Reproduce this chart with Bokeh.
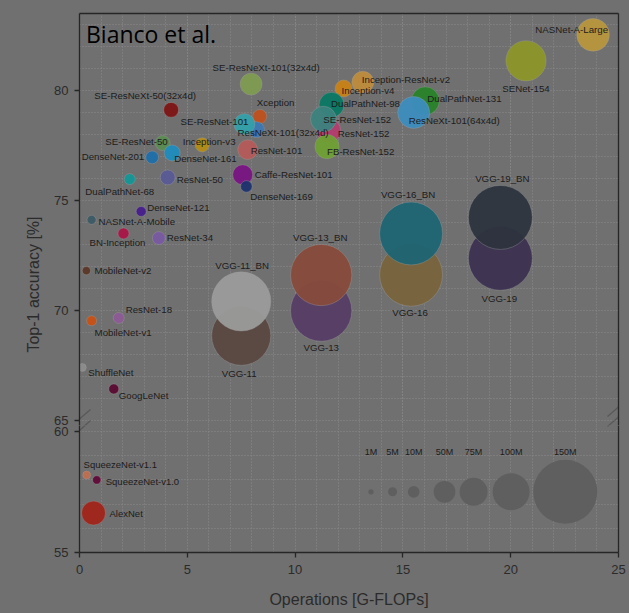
import numpy as np
from bokeh.plotting import figure
from bokeh.models import (Range1d, FixedTicker, LinearAxis, ColumnDataSource, Label,
                          PolyAnnotation, Grid)
from bokeh.layouts import column, row
from bokeh.embed import file_html
from bokeh.resources import INLINE
from bokeh.core.properties import value, field

# ------------------------------------------------------------------ data
names = ["VGG-11", "VGG-11_BN", "VGG-13", "VGG-13_BN", "VGG-16", "VGG-16_BN", "VGG-19", "VGG-19_BN",
         "NASNet-A-Large", "SENet-154", "SE-ResNeXt-101(32x4d)", "SE-ResNeXt-50(32x4d)", "Xception",
         "ResNeXt-101(32x4d)", "SE-ResNet-101", "Inception-v3", "ResNet-101", "SE-ResNet-50",
         "DenseNet-201", "DenseNet-161", "DualPathNet-68", "ResNet-50", "Caffe-ResNet-101",
         "DenseNet-169", "DenseNet-121", "NASNet-A-Mobile", "BN-Inception", "ResNet-34",
         "MobileNet-v2", "ResNet-18", "MobileNet-v1", "ShuffleNet", "GoogLeNet",
         "Inception-ResNet-v2", "Inception-v4", "DualPathNet-131", "ResNeXt-101(64x4d)",
         "DualPathNet-98", "ResNet-152", "FB-ResNet-152", "SE-ResNet-152"]
gflops = [7.50, 7.50, 11.21, 11.21, 15.38, 15.38, 19.52, 19.52,
          23.82, 20.71, 7.96, 4.25, 8.36, 8.21, 7.65, 5.69, 7.80, 3.86,
          3.37, 4.30, 2.33, 4.09, 7.57, 7.74, 2.86, 0.56, 2.04, 3.68,
          0.32, 1.82, 0.56, 0.13, 1.59, 13.14, 12.25, 16.04, 15.50, 11.69, 11.56, 11.48, 11.31]
top1 = [68.83, 70.39, 69.97, 71.59, 71.60, 73.48, 72.35, 74.21,
        82.51, 81.33, 80.27, 79.10, 78.80, 78.20, 78.45, 77.51, 77.29, 77.59,
        76.94, 77.14, 75.95, 76.03, 76.15, 75.62, 74.48, 74.10, 73.48, 73.27,
        71.79, 69.64, 69.51, 67.39, 66.41, 80.35, 80.07, 79.51, 78.98, 79.33, 78.15, 77.43, 78.68]
params_m = [141, 141, 145, 145, 148, 148, 150, 150,
            88, 106, 51, 23, 19, 27, 47, 20, 42, 23,
            14, 27, 8.7, 23, 43, 9.6, 6.9, 5, 8.7, 15,
            4.3, 8.7, 6.9, 3.9, 6.9, 51, 31, 75, 86, 63, 59, 60, 66]

low_names = ["SqueezeNet-v1.1", "SqueezeNet-v1.0", "AlexNet"]
low_gflops = [0.33, 0.80, 0.65]
low_top1 = [58.20, 58.00, 56.63]
low_params_m = [3.9, 4.3, 59]

legend_params = [1, 5, 10, 50, 75, 100, 150]
legend_labels = ["1M", "5M", "10M", "50M", "75M", "100M", "150M"]

x_ticks = [0, 5, 10, 15, 20, 25]
y_ticks_top = [65, 70, 75, 80]
y_ticks_bottom = [55, 60]

# ------------------------------------------------------------------ styles
colors = ["#5a4841", "#9b9b9b", "#553c64", "#874b3c", "#78643c", "#1e6473", "#3c3250", "#2d343e",
          "#b8963c", "#8c9628", "#7d9b50", "#7d1414", "#be501e", "#3c78b4", "#32a0aa", "#b48c14",
          "#b45a5a", "#5a8c50", "#1e6eaa", "#1e8cbe", "#149696", "#5a5a96", "#781482", "#1e326e",
          "#461e8c", "#3c5a64", "#aa1446", "#785aa0", "#5a3728", "#8c5a96", "#c85014", "#8c8c8c",
          "#5a0a32", "#be8c3c", "#c88214", "#288228", "#3c8cbe", "#0a7864", "#b43c6e", "#6ea032",
          "#3c827d"]
lab_align = ["center"] * 8 + ["right", "center", "center", "center", "left", "left", "right", "center",
             "left", "right", "right", "left", "center", "left", "left", "left", "left", "left",
             "center", "left", "left", "left", "left", "left", "left", "left", "left", "left",
             "left", "left", "left", "left", "left"]
lab_dx = [-2, 1, 0, -1, -1, -3, -1, 2,
          15, 0, 15, -26, -3, -19, 4, 7, 3, 5, -8, 2, -10, 9, 12, 4, 6, 7, -6, 8,
          8, 7, 3, 6, 5, -1, -2, 2, -5, -0.5, 9, 0, 0]
lab_dy = [38, -36, 37, -38, 38, -39, 40, -39,
          -5, 28, -17, -14, -14, 3, -2.5, -3, 1, -2, -1, 6, 12, 2, 0, 10, -4, 2, 9, -1,
          0, -8, 12, 5, 7, -2.5, 1.5, -2, 8, -1, 3, 5, 0]
low_colors = ["#be6e50", "#5f0a37", "#a02319"]
low_align = ["left", "left", "left"]
low_dx = [-3, 9, 16]
low_dy = [-11, 2, 0]

legend_d = [5.3, 9, 11.7, 21.7, 28, 37, 64]          # bubble diameter (px) for legend_params
legend_x = [13.52, 14.52, 15.50, 16.93, 18.28, 20.02, 22.53]
legend_y = 57.51
legend_label_y = 59.14

BG = "#707070"
AX = "#262626"
GRID = "#8a8a8a"
TXT = "#1c1c1c"
FONT = "Liberation Sans"


def size_of(p):
    return np.interp(p, legend_params, legend_d)


# ------------------------------------------------------------------ figures
xr = Range1d(0, 25)
TOP_Y = (64.75, 83.48)
BOT_Y = (55, 60.25)
TOP_FRAME = (13, 425)      # page px of the upper panel frame (top, bottom)
BOT_FRAME = (425, 552)

common = dict(width=581, output_backend="svg", toolbar_location=None,
              min_border_left=31, min_border_right=11,
              background_fill_color=BG, border_fill_color=BG, outline_line_color=None)

top = figure(height=425, x_range=xr, y_range=Range1d(*TOP_Y), x_axis_location=None,
             min_border_top=13, min_border_bottom=0, **common)
bot = figure(height=188, x_range=xr, y_range=Range1d(*BOT_Y),
             min_border_top=0, min_border_bottom=61, **common)


def style_axis(ax):
    ax.axis_line_color = AX
    ax.axis_line_width = 1.3
    ax.major_tick_line_color = AX
    ax.major_tick_line_width = 1.3
    ax.major_tick_out = 5
    ax.major_tick_in = 0
    ax.minor_tick_line_color = None
    ax.major_label_text_font = FONT
    ax.major_label_text_font_size = "13px"
    ax.major_label_text_color = "#2b2b2b"


top.yaxis.ticker = FixedTicker(ticks=y_ticks_top)
bot.yaxis.ticker = FixedTicker(ticks=y_ticks_bottom)
bot.xaxis.ticker = FixedTicker(ticks=x_ticks)
for ax in (top.yaxis[0], bot.yaxis[0], bot.xaxis[0]):
    style_axis(ax)
top.yaxis.major_label_standoff = 6
bot.yaxis.major_label_standoff = 6
bot.xaxis.major_label_standoff = 7
bot.xaxis.axis_label = "Operations [G-FLOPs]"
bot.xaxis.axis_label_text_font = FONT
bot.xaxis.axis_label_text_font_size = "16px"
bot.xaxis.axis_label_text_font_style = "normal"
bot.xaxis.axis_label_text_color = "#2b2b2b"
bot.xaxis.axis_label_standoff = 14


def frame_line(f, side):
    ax = LinearAxis(ticker=FixedTicker(ticks=[]), axis_line_color=AX, axis_line_width=1.3,
                    major_tick_line_color=None, minor_tick_line_color=None,
                    major_label_text_font_size="0px", major_label_standoff=0,
                    major_tick_out=0, major_tick_in=0)
    f.add_layout(ax, side)


frame_line(top, "above")
frame_line(top, "right")
frame_line(bot, "right")

# grids (every unit, dotted)
top.ygrid.ticker = FixedTicker(ticks=list(range(65, 84)))
bot.ygrid.ticker = FixedTicker(ticks=list(range(55, 61)))
bot.xgrid.ticker = FixedTicker(ticks=list(range(0, 26)))
top.add_layout(Grid(dimension=0, ticker=FixedTicker(ticks=list(range(0, 26)))))
for f in (top, bot):
    for g in f.grid:
        g.grid_line_color = GRID
        g.grid_line_dash = "1 2"
        g.grid_line_width = 1

# ------------------------------------------------------------------ bubbles
src = ColumnDataSource(dict(x=gflops, y=top1, name=names, size=size_of(params_m), color=colors,
                            align=lab_align, dx=lab_dx, dy=lab_dy))
top.scatter("x", "y", size="size", fill_color="color", fill_alpha=0.95,
            line_color="#a0a0a0", line_alpha=0.5, line_width=0.7, source=src)
top.text("x", "y", text="name", x_offset="dx", y_offset="dy", text_align=field("align"),
         text_baseline="middle", text_font=value(FONT), text_font_size="9.7px",
         text_color=TXT, source=src)

lsrc = ColumnDataSource(dict(x=low_gflops, y=low_top1, name=low_names, size=size_of(low_params_m),
                             color=low_colors, align=low_align, dx=low_dx, dy=low_dy))
bot.scatter("x", "y", size="size", fill_color="color", fill_alpha=0.95,
            line_color="#a0a0a0", line_alpha=0.5, line_width=0.7, source=lsrc)
bot.text("x", "y", text="name", x_offset="dx", y_offset="dy", text_align=field("align"),
         text_baseline="middle", text_font=value(FONT), text_font_size="9.5px",
         text_color=TXT, source=lsrc)

gsrc = ColumnDataSource(dict(x=legend_x, y=[legend_y] * len(legend_x),
                             ly=[legend_label_y] * len(legend_x),
                             size=size_of(legend_params), label=legend_labels))
bot.scatter("x", "y", size="size", fill_color="#5f5f5f", line_color=None, source=gsrc)
bot.text("x", "ly", text="label", text_align="center", text_baseline="middle",
         text_font=value(FONT), text_font_size="9px", text_color=TXT, source=gsrc)

# ------------------------------------------------------------------ annotations
top.add_layout(Label(x=0.30, y=82.56, text="Bianco et al.", text_font="Open Sans",
                     text_font_size="23px", text_color="black", text_baseline="alphabetic"))

# y-axis title spans both panels: drawn in its own narrow strip figure
ylab = figure(width=48, height=613, x_range=Range1d(0, 1), y_range=Range1d(0, 1),
              x_axis_location=None, y_axis_location=None, output_backend="svg",
              toolbar_location=None, min_border=0, background_fill_color=BG,
              border_fill_color=BG, outline_line_color=None)
ylab.grid.visible = False
ylab.add_layout(Label(x=0.6875, y=0.5367, text="Top-1 accuracy [%]", angle=np.pi / 2,
                      text_align="center", text_baseline="middle", text_font=FONT,
                      text_font_size="16px", text_color="#2b2b2b"))

# axis-break marks (page pixels -> each panel's data space)
X_PX = 539 / 25.0
TOP_PX = (TOP_FRAME[1] - TOP_FRAME[0]) / (TOP_Y[1] - TOP_Y[0])
BOT_PX = (BOT_FRAME[1] - BOT_FRAME[0]) / (BOT_Y[1] - BOT_Y[0])


def xd(px):
    return (px - 79) / X_PX


def ty(py):
    return TOP_Y[1] - (py - TOP_FRAME[0]) / TOP_PX


def by(py):
    return BOT_Y[0] + (BOT_FRAME[1] - py) / BOT_PX


breaks = [((68, 428), (90, 409)), ((69, 439), (90, 420)),
          ((607, 416), (629, 397)), ((607, 426), (629, 407))]
for (x1, y1), (x2, y2) in breaks:
    top.add_layout(PolyAnnotation(xs=[xd(x1), xd(x2)], ys=[ty(y1), ty(y2)], fill_color=None,
                                  fill_alpha=0, line_color=AX, line_width=1.3))
    bot.add_layout(PolyAnnotation(xs=[xd(x1), xd(x2)], ys=[by(y1), by(y2)], fill_color=None,
                                  fill_alpha=0, line_color=AX, line_width=1.3))

layout = row(ylab, column(top, bot, spacing=0), spacing=0)
html = file_html(layout, INLINE)
html = html.replace("<head>", "<head><style>html,body{background:#707070;}</style>", 1)
open("out.html", "w").write(html)
